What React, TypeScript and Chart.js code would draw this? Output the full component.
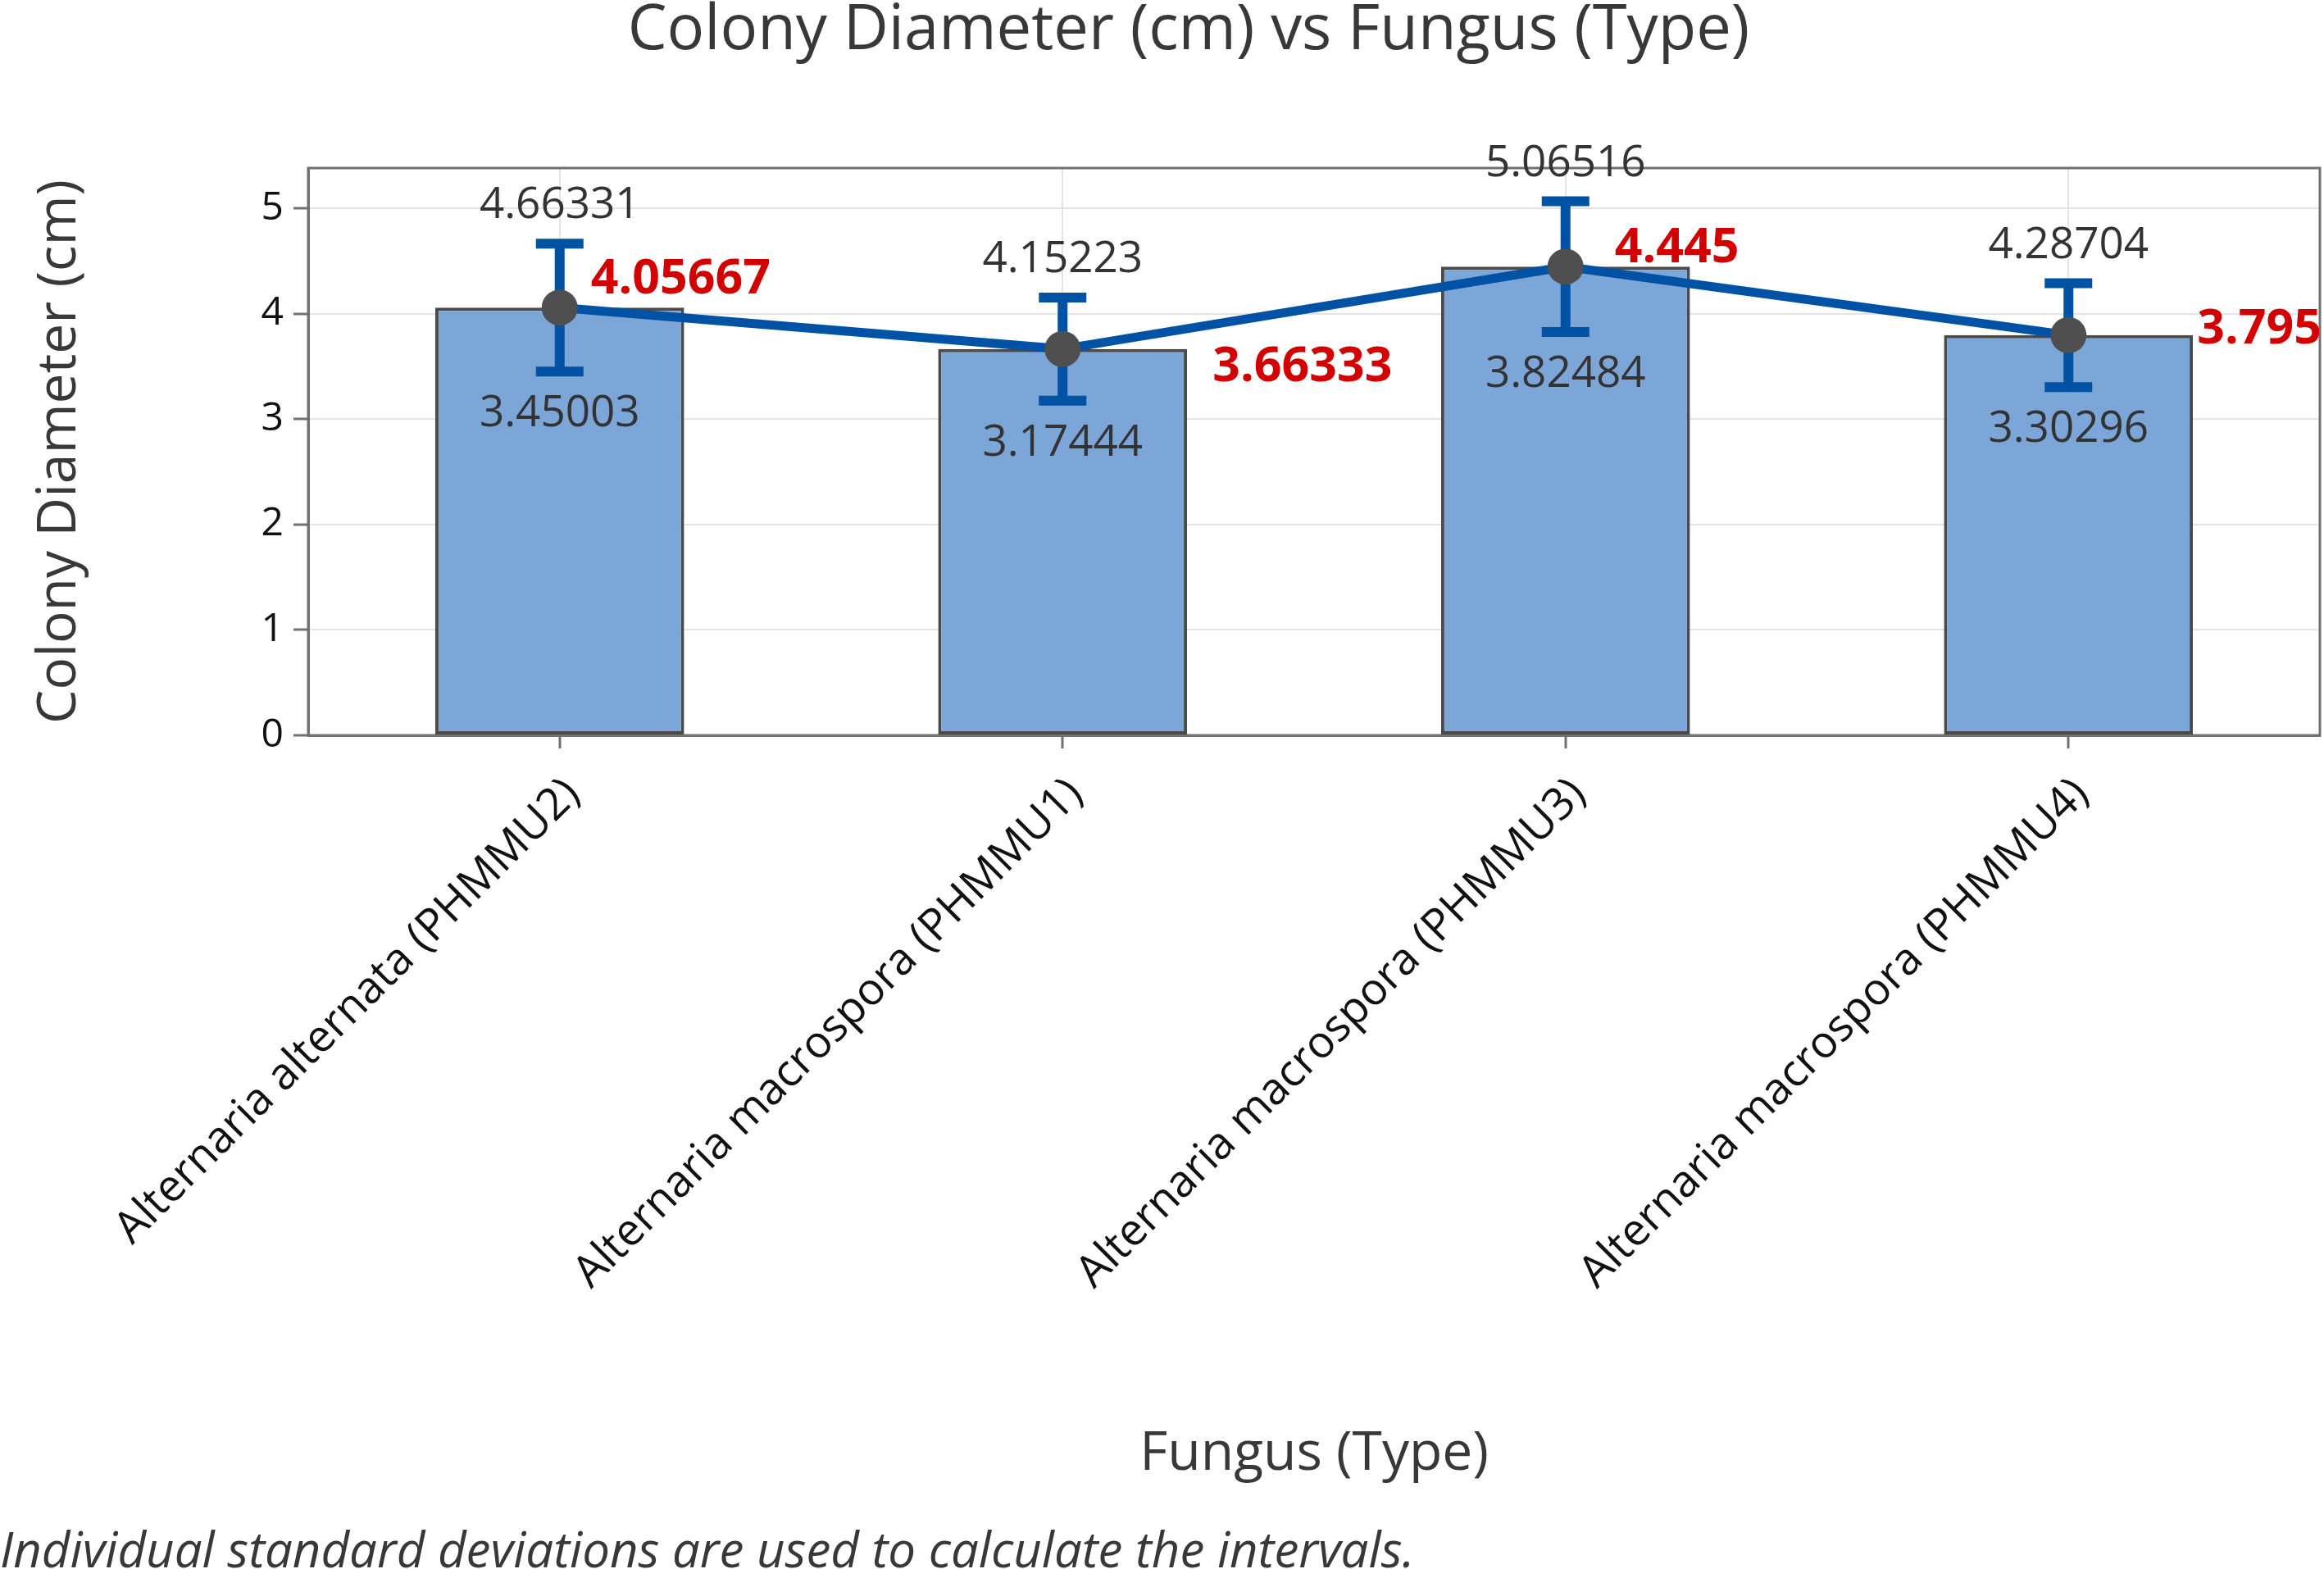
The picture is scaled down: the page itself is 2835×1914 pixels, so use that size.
import React, { useEffect, useRef } from "react";
import { Chart, registerables } from "chart.js";

Chart.register(...registerables);

// ---------------- data ----------------
const categories = [
  "Alternaria alternata (PHMMU2)",
  "Alternaria macrospora (PHMMU1)",
  "Alternaria macrospora (PHMMU3)",
  "Alternaria macrospora (PHMMU4)",
];
const means = [4.05667, 3.66333, 4.445, 3.795];
const upperCI = [4.66331, 4.15223, 5.06516, 4.28704];
const lowerCI = [3.45003, 3.17444, 3.82484, 3.30296];
const yTickValues = [0, 1, 2, 3, 4, 5];

const TITLE = "Colony Diameter (cm) vs Fungus (Type)";
const X_TITLE = "Fungus (Type)";
const Y_TITLE = "Colony Diameter (cm)";
const FOOTNOTE = "Individual standard deviations are used to calculate the intervals.";

// ---------------- styling / layout ----------------
const W = 2835;
const H = 1914;
const FONT = "'Open Sans', 'Noto Sans', sans-serif";
const BLUE = "#0052A5";
const BAR_FILL = "#7CA6D8";
const BAR_BORDER = "#4A4A4A";
const POINT_COLOR = "#4F4F4F";
const GRID = "#E4E4E4";
const FRAME = "#707070";
const RED = "#D20000";
const TEXT_DARK = "#333333";
const TITLE_COLOR = "#383838";

const CHART_TOP = 205;
const CHART_BOTTOM = 897;
const CHART_LEFT = 376;
const CHART_RIGHT = 2830;

// offsets of the red mean labels from their point (px)
const meanLabelOffsets = [
  { dx: 38, dy: -34 },
  { dx: 183, dy: 22 },
  { dx: 60, dy: -22 },
  { dx: 157, dy: -7 },
];

const errorBarPlugin = {
  id: "errorBars",
  beforeDatasetDraw(chart: any, args: any) {
    if (args.index !== 1) return;
    const { ctx } = chart;
    const y = chart.scales.y;
    const meta = chart.getDatasetMeta(1);
    ctx.save();
    ctx.strokeStyle = BLUE;
    ctx.lineCap = "butt";
    meta.data.forEach((pt: any, i: number) => {
      const x = pt.x;
      const yt = y.getPixelForValue(upperCI[i]);
      const yb = y.getPixelForValue(lowerCI[i]);
      ctx.lineWidth = 12;
      ctx.beginPath();
      ctx.moveTo(x, yt);
      ctx.lineTo(x, yb);
      ctx.stroke();
      ctx.lineWidth = 12;
      ctx.beginPath();
      ctx.moveTo(x - 29, yt);
      ctx.lineTo(x + 29, yt);
      ctx.moveTo(x - 29, yb);
      ctx.lineTo(x + 29, yb);
      ctx.stroke();
    });
    ctx.restore();
  },
};

const framePlugin = {
  id: "frame",
  beforeDatasetsDraw(chart: any) {
    const { ctx, chartArea } = chart;
    ctx.save();
    ctx.strokeStyle = FRAME;
    ctx.lineWidth = 3;
    ctx.strokeRect(chartArea.left, chartArea.top, chartArea.right - chartArea.left, chartArea.bottom - chartArea.top);
    ctx.restore();
  },
};

const labelsPlugin = {
  id: "valueLabels",
  afterDatasetsDraw(chart: any) {
    const { ctx } = chart;
    const y = chart.scales.y;
    const meta = chart.getDatasetMeta(1);
    ctx.save();
    ctx.textBaseline = "middle";
    meta.data.forEach((pt: any, i: number) => {
      const x = pt.x;
      const yt = y.getPixelForValue(upperCI[i]);
      const yb = y.getPixelForValue(lowerCI[i]);
      ctx.font = `53px ${FONT}`;
      ctx.fillStyle = TEXT_DARK;
      ctx.textAlign = "center";
      ctx.fillText(String(upperCI[i]), x, yt - 46);
      ctx.fillText(String(lowerCI[i]), x, yb + 52);
      ctx.font = `bold 59px ${FONT}`;
      ctx.fillStyle = RED;
      ctx.textAlign = "left";
      const o = meanLabelOffsets[i];
      ctx.fillText(String(means[i]), x + o.dx, pt.y + o.dy);
    });
    ctx.restore();
  },
  afterDraw(chart: any) {
    const { ctx } = chart;
    ctx.save();
    ctx.fillStyle = TITLE_COLOR;
    ctx.textBaseline = "middle";
    ctx.textAlign = "center";
    ctx.font = `76px ${FONT}`;
    ctx.fillText(TITLE, 1450, 38);
    ctx.textAlign = "left";
    ctx.textBaseline = "alphabetic";
    ctx.font = `italic 60px ${FONT}`;
    ctx.fillText(FOOTNOTE, 0, 1912);
    ctx.restore();
  },
};

export default function App() {
  const ref = useRef<HTMLCanvasElement | null>(null);

  useEffect(() => {
    document.body.style.margin = "0";
    const canvas = ref.current;
    if (!canvas) return;
    const chart = new Chart(canvas, {
      data: {
        labels: categories,
        datasets: [
          {
            type: "bar",
            data: means,
            backgroundColor: BAR_FILL,
            borderColor: BAR_BORDER,
            borderWidth: 4,
            borderSkipped: false,
            barPercentage: 0.495,
            categoryPercentage: 1,
            order: 2,
          } as any,
          {
            type: "line",
            data: means,
            borderColor: BLUE,
            borderWidth: 11,
            pointRadius: 22,
            pointHoverRadius: 22,
            pointBackgroundColor: POINT_COLOR,
            pointBorderWidth: 0,
            tension: 0,
            order: 1,
          } as any,
        ],
      },
      options: {
        animation: false,
        responsive: false,
        devicePixelRatio: 1,
        layout: {
          autoPadding: false,
          padding: { top: CHART_TOP, left: 0, right: W - CHART_RIGHT, bottom: 0 },
        },
        plugins: {
          legend: { display: false },
          tooltip: { enabled: false },
          title: { display: false },
        },
        scales: {
          x: {
            type: "category",
            offset: true,
            grid: {
              offset: false,
              color: GRID,
              lineWidth: 2,
              tickColor: FRAME,
              tickLength: 16,
              tickWidth: 3,
            },
            border: { color: FRAME, width: 3 },
            ticks: {
              autoSkip: false,
              minRotation: 45,
              maxRotation: 45,
              padding: 24,
              labelOffset: 16,
              color: "#111111",
              font: { family: FONT, size: 54 },
            },
            title: {
              display: true,
              text: X_TITLE,
              color: TITLE_COLOR,
              font: { family: FONT, size: 66 },
              padding: { top: 0, bottom: 100 },
            },
            afterFit(scale: any) {
              scale.height = H - CHART_BOTTOM;
            },
          },
          y: {
            type: "linear",
            min: 0,
            max: 5.38,
            grid: {
              color: GRID,
              lineWidth: 2,
              tickColor: FRAME,
              tickLength: 18,
              tickWidth: 3,
            },
            border: { color: FRAME, width: 3 },
            afterBuildTicks(scale: any) {
              scale.ticks = yTickValues.map((v) => ({ value: v }));
            },
            ticks: {
              padding: 12,
              color: "#111111",
              font: { family: FONT, size: 48 },
            },
            title: {
              display: true,
              text: Y_TITLE,
              color: TITLE_COLOR,
              font: { family: FONT, size: 66 },
              padding: { top: 34, bottom: 0 },
            },
            afterFit(scale: any) {
              scale.width = CHART_LEFT;
            },
          },
        },
      } as any,
      plugins: [framePlugin, errorBarPlugin, labelsPlugin],
    });
    return () => chart.destroy();
  }, []);

  return (
    <div style={{ position: "absolute", left: 0, top: 0, width: W, height: H, background: "#fff" }}>
      <canvas ref={ref} width={W} height={H} style={{ display: "block", width: W, height: H }} />
    </div>
  );
}
